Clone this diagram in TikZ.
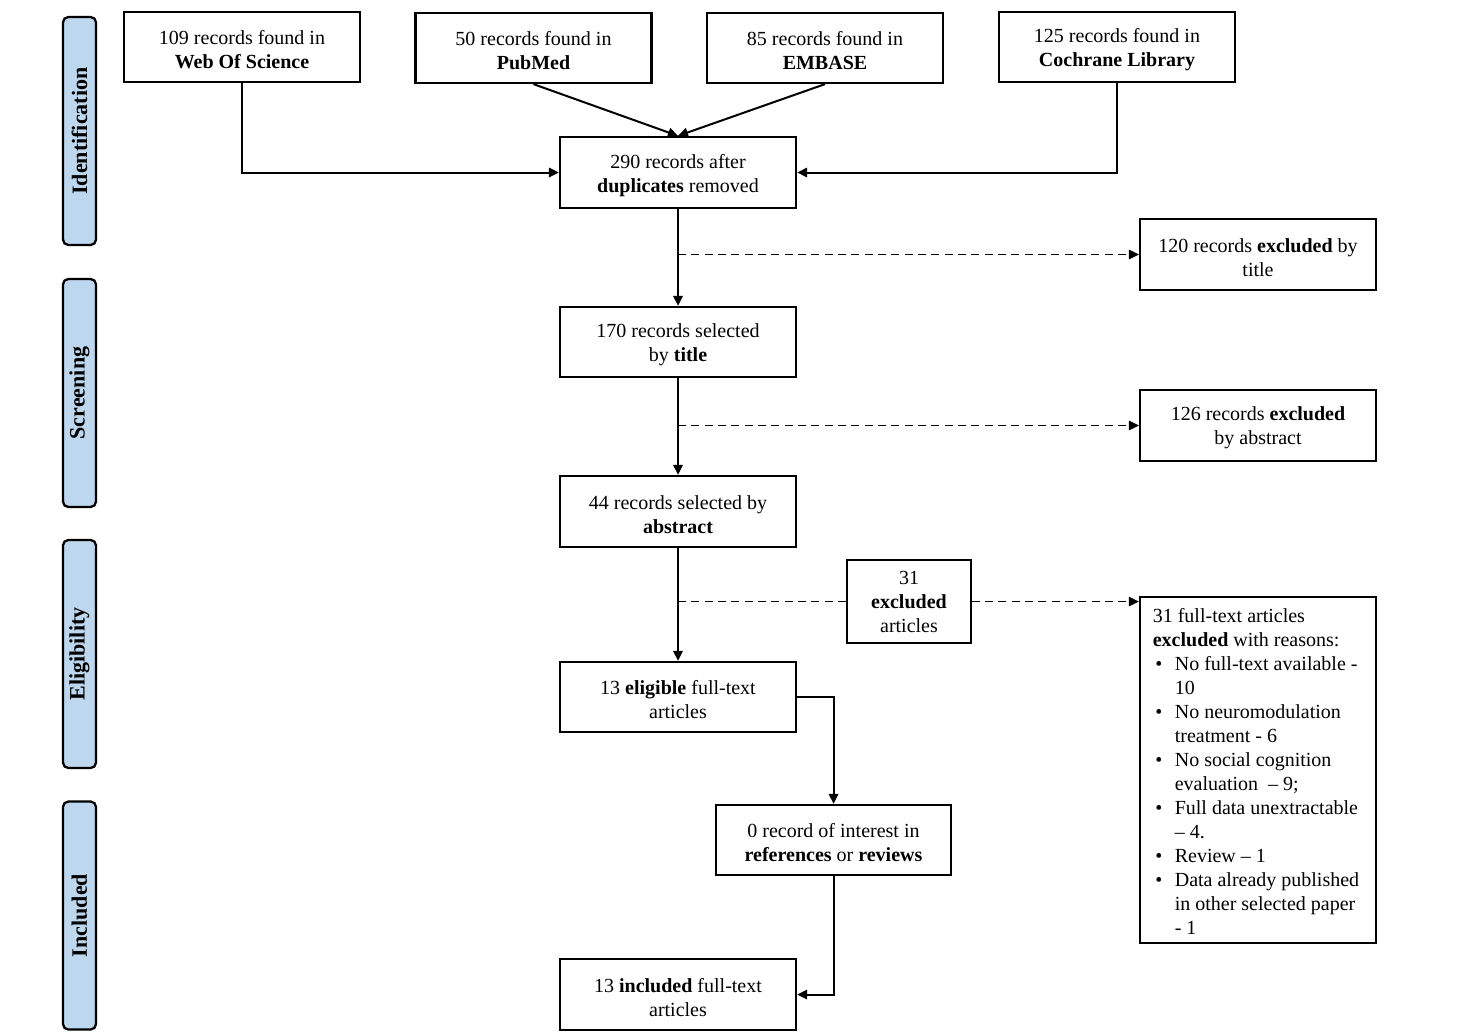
\documentclass[tikz,border=0pt]{standalone}
\usepackage{fontspec}
\setmainfont{Liberation Serif}
\usetikzlibrary{arrows.meta}
\definecolor{sidefill}{RGB}{189,215,238}
\begin{document}
\begin{tikzpicture}[x=0.75pt,y=-0.75pt,
 every node/.style={font=\fontsize{15}{18}\selectfont},
 frame/.style={draw, line width=1.7pt, minimum width=236*0.75pt, minimum height=70*0.75pt, inner sep=0pt},
 box/.style={frame, label={[align=center, inner sep=0pt, yshift=-2pt]center:{#1}}},
 thinbox/.style={draw, line width=0.8pt, minimum width=124*0.75pt, minimum height=83*0.75pt, align=center, inner sep=0pt},
 side/.style={draw, line width=1.7pt, fill=sidefill, rounded corners=4pt, minimum width=228*0.75pt, minimum height=33*0.75pt, rotate=90, font=\fontsize{16.5}{19}\selectfont\bfseries, inner sep=0pt},
 tip/.style={-{Triangle[length=7.5pt,width=7pt]}},
 ln/.style={line width=1.5pt},
 arr/.style={ln, tip},
 dsh/.style={line width=1.4pt, dash pattern=on 6pt off 4pt}
]
\useasboundingbox (0,0) rectangle (1470,1035);

% side bars
\node[side] (sid) at (79.5,131) {Identification};
\node[side] (sscr) at (79.5,393) {Screening};
\node[side] (selig) at (79.5,654) {Eligibility};
\node[side] (sinc) at (79.5,915.5) {Included};

% top sources
\node[box={109 records found in\\\textbf{Web Of Science}}] (wos) at (242,47) {};
\node[box={50 records found in\\\textbf{PubMed}}] (pub) at (533.5,48) {};
\node[box={85 records found in\\\textbf{EMBASE}}] (emb) at (825,48) {};
\node[box={125 records found in\\\textbf{Cochrane Library}}] (coch) at (1117,47) {};

% main column
\node[box={290 records after\\\textbf{duplicates} removed}, minimum height=71*0.75pt] (dup) at (678,172.5) {};
\node[box={170 records selected\\by \textbf{title}}] (t170) at (678,342) {};
\node[box={44 records selected by\\\textbf{abstract}}, minimum height=71*0.75pt] (a44) at (678,511.5) {};
\node[box={13 \textbf{eligible} full-text\\articles}] (elig) at (678,697) {};
\node[box={0 record of interest in\\\textbf{references} or \textbf{reviews}}, minimum width=235*0.75pt] (rec0) at (833.5,840) {};
\node[box={13 \textbf{included} full-text\\articles}, minimum height=71*0.75pt] (incl) at (678,994.5) {};

% exclusions
\node[box={120 records \textbf{excluded} by\\title}, minimum height=71*0.75pt] (ex120) at (1258,254.5) {};
\node[box={126 records \textbf{excluded}\\by abstract}, minimum height=71*0.75pt] (ex126) at (1258,425.5) {};
\node[thinbox] (ex31) at (909,601.5) {31\\\textbf{excluded}\\articles};
\node[frame, align=center, minimum height=346*0.75pt] (rsn) at (1258,770) {\hspace*{-3pt}%
\begin{tabular}{@{\hspace{2pt}}p{14.5pt}@{}l@{}}
\multicolumn{2}{@{}l@{}}{\rule{0pt}{18.5pt}31 full-text articles}\\
\multicolumn{2}{@{}l@{}}{\textbf{excluded} with reasons:}\\
\textbullet & No full-text available -\\
 & 10\\
\textbullet & No neuromodulation\\
 & treatment - 6\\
\textbullet & No social cognition\\
 & evaluation\ \ -- 9;\\
\textbullet & Full data unextractable\\
 & -- 4.\\
\textbullet & Review -- 1\\
\textbullet & Data already published\\
 & in other selected paper\\
 & - 1
\end{tabular}};

% connectors
\draw[arr] (wos.south) |- (dup.west);
\draw[arr] (coch.south) |- (dup.east);
\draw[arr] (pub.south) -- (dup.north);
\draw[arr] (emb.south) -- (dup.north);
\draw[arr] (dup.south) -- (t170.north);
\draw[arr] (t170.south) -- (a44.north);
\draw[arr] (a44.south) -- (elig.north);

\coordinate (d1) at (678,254.5);
\coordinate (d2) at (678,425.5);
\coordinate (d3) at (678,601.5);
\draw[dsh, tip] (d1) -- (ex120.west);
\draw[dsh, tip] (d2) -- (ex126.west);
\draw[dsh] (d3) -- (ex31.west);
\draw[dsh, tip] (ex31.east) -- (ex31.east -| rsn.west);

\draw[arr] (elig.east) -| (rec0.north);
\draw[arr] (rec0.south) |- (incl.east);
\end{tikzpicture}
\end{document}
